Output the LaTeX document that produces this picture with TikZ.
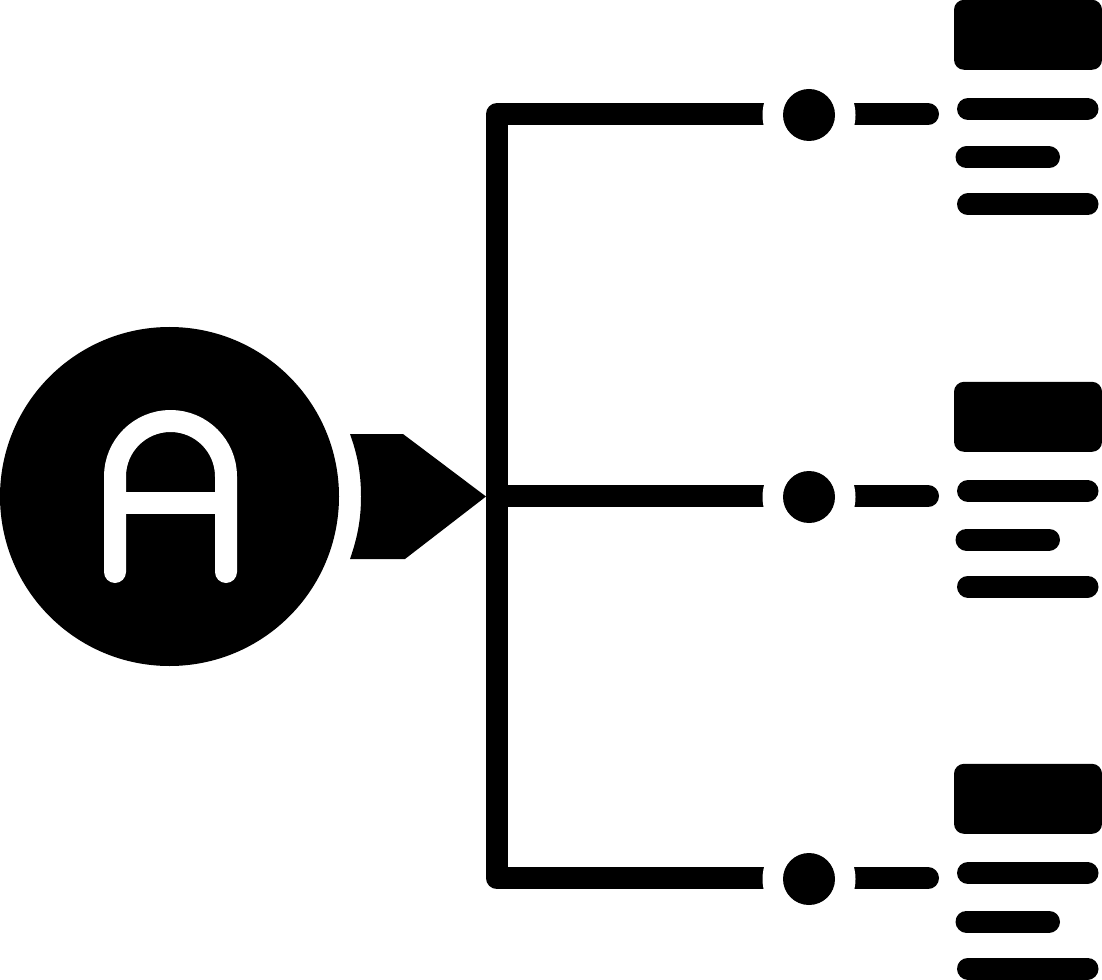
\documentclass[tikz,border=0pt]{standalone}
\begin{document}
\begin{tikzpicture}[x=0.75pt,y=-0.75pt,
  thick bar/.style={line width=16.5pt,line cap=round,line join=round,black},
  hub/.style={circle,fill=black,inner sep=0pt,minimum size=254.25pt},
  letterline/.style={line width=16.5pt,line cap=round,line join=round,white},
  gapring/.style={circle,fill=white,inner sep=0pt,minimum size=69.75pt},
  dotnode/.style={circle,fill=black,inner sep=0pt,minimum size=39pt},
  cardbox/.style={rectangle,fill=black,rounded corners=7.5pt,inner sep=0pt,minimum width=111pt,minimum height=52.5pt}]
\useasboundingbox (0,0) rectangle (1102,980);
\fill[white] (0,0) rectangle (1102,980);
% hub with letter
\node[hub] (hubnode) at (169.5,496.5) {};
\draw[letterline] (115,572) -- (115,476.5) arc[start angle=180,end angle=360,radius=55.5] -- (226,572);
\draw[letterline,line cap=butt] (115,502.5) -- (226,502.5);
% pointer
\coordinate (tip) at (486,496.5);
\fill[black] (350,434) -- (403,434) -- (tip) -- (405,559) -- (350,559)
  .. controls (358,536) and (361,518) .. (361,496.5)
  .. controls (361,475) and (358,456) .. (350,434) -- cycle;
% groups
\foreach \i/\dy in {1/0,2/382,3/764}{
  \begin{scope}[shift={(0,\dy)}]
    \coordinate (dotc\i) at (809,114.2);
    \coordinate (dotm\i) at (809,115);
    \coordinate (stub\i) at (928,114.2);
    \coordinate (aL\i) at (968,109);  \coordinate (aR\i) at (1087.5,109);
    \coordinate (bL\i) at (966.5,157.5); \coordinate (bR\i) at (1049,157.5);
    \coordinate (cL\i) at (968,204.5); \coordinate (cR\i) at (1087.5,204.5);
    \coordinate (bend\i) at (497,114.2);
    \node[cardbox] (card\i) at (1028,34.8) {};
  \end{scope}
  \draw[thick bar] (aL\i) -- (aR\i);
  \draw[thick bar] (bL\i) -- (bR\i);
  \draw[thick bar] (cL\i) -- (cR\i);
}
% tree
\draw[thick bar,line cap=butt] (dotc1) -- (bend1) -- (bend3) -- (dotc3);
\draw[thick bar,line cap=butt] (bend2) -- (dotc2);
\foreach \i in {1,2,3}{
  \draw[thick bar] (dotc\i) -- (stub\i);
  \node[gapring] (gap\i) at (dotm\i) {};
  \node[dotnode] (dot\i) at (dotm\i) {};
}
\end{tikzpicture}
\end{document}
